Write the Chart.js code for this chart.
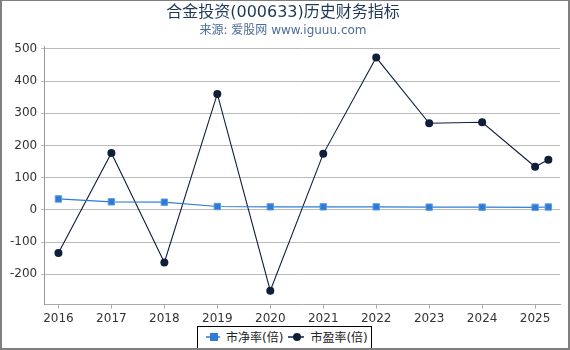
<!DOCTYPE html>
<html>
<head>
<meta charset="utf-8">
<script src="https://cdn.jsdelivr.net/npm/chart.js@4"></script>
<style>
    html, body { margin: 0; padding: 0; background: #fff; }
    #marco {
        width: 566px; height: 347px;
        border: 2px solid #7f7f7f; border-top-width: 1px;
        position: relative; overflow: hidden;
    }
    #leyenda {
        position: absolute; left: 195px; top: 325px;
        width: 175px; height: 23px; box-sizing: border-box;
        border: 1px solid #000; background: #fff;
        display: flex; align-items: center; padding: 0 0 2px 8px;
        font: 12px 'DejaVu Sans', 'Noto Sans CJK SC', sans-serif; color: #222;
    }
    #leyenda canvas { display: block; }
    #leyenda span { margin-left: 6px; margin-right: 5px; white-space: nowrap; }
</style>
</head>
<body>
<div id="marco">
    <canvas id="grafico" width="566" height="347"></canvas>
    <div id="leyenda"></div>
</div>
<script>
// Datos del gráfico
const anios = [2016, 2017, 2018, 2019, 2020, 2021, 2022, 2023, 2024, 2025, 2025.25];
const pbValores = [34, 25, 24, 10.5, 9.5, 9.5, 9.5, 8.5, 8.5, 8, 9];
const peValores = [-134, 177, -163, 360, -251, 174, 473, 269, 272, 134, 156];
const ticksY = [-200, -100, 0, 100, 200, 300, 400, 500];
const ticksX = [2016, 2017, 2018, 2019, 2020, 2021, 2022, 2023, 2024, 2025];

const fuente = "'DejaVu Sans', 'Noto Sans CJK SC', sans-serif";
const colorPB = '#2e7bd6';
const colorPE = '#0f1f3a';

const datosPB = anios.map((a, i) => ({ x: a, y: pbValores[i] }));
const datosPE = anios.map((a, i) => ({ x: a, y: peValores[i] }));

const grafico = new Chart(document.getElementById('grafico'), {
    type: 'line',
    data: {
        datasets: [{
            label: '市净率(倍)',
            data: datosPB,
            borderColor: colorPB,
            backgroundColor: colorPB,
            borderWidth: 1.2,
            pointStyle: 'rect',
            pointRadius: 4.5,
            pointBorderColor: '#5d9be3',
            pointBorderWidth: 1,
            tension: 0
        }, {
            label: '市盈率(倍)',
            data: datosPE,
            borderColor: colorPE,
            backgroundColor: colorPE,
            borderWidth: 1.1,
            pointStyle: 'circle',
            pointRadius: 4,
            pointBorderWidth: 0,
            tension: 0
        }]
    },
    options: {
        responsive: false,
        animation: false,
        layout: { padding: { left: 4, right: 8, top: 0, bottom: 19 } },
        plugins: {
            title: {
                display: true,
                text: '合金投资(000633)历史财务指标',
                color: '#1e3856',
                font: { family: fuente, size: 16, weight: 'normal' },
                padding: { top: 2, bottom: 0 }
            },
            subtitle: {
                display: true,
                text: '来源: 爱股网 www.iguuu.com',
                color: '#4d6d99',
                font: { family: fuente, size: 12 },
                padding: { top: 1, bottom: 9 }
            },
            legend: { display: false },
            tooltip: { enabled: false }
        },
        scales: {
            x: {
                type: 'linear',
                min: 2015.732,
                max: 2025.47,
                afterBuildTicks(axis) { axis.ticks = ticksX.map(v => ({ value: v })); },
                ticks: {
                    callback: v => String(v),
                    color: '#333',
                    font: { family: fuente, size: 12 },
                    maxRotation: 0,
                    padding: 3
                },
                grid: { drawOnChartArea: false, drawTicks: true, tickLength: 4, color: '#aaa' },
                border: { color: '#aaa' }
            },
            y: {
                min: -294,
                max: 507,
                afterBuildTicks(axis) { axis.ticks = ticksY.map(v => ({ value: v })); },
                ticks: {
                    color: '#333',
                    font: { family: fuente, size: 12 },
                    padding: 4
                },
                grid: { color: '#bbb', tickLength: 3 },
                border: { color: '#999' }
            }
        }
    }
});

// Leyenda en HTML: línea con marcador y texto
function crearIcono(ds, ancho) {
    const c = document.createElement('canvas');
    c.width = ancho; c.height = 10;
    const g = c.getContext('2d');
    g.strokeStyle = ds.borderColor;
    g.lineWidth = 1.5;
    g.beginPath(); g.moveTo(0, 5); g.lineTo(ancho, 5); g.stroke();
    g.fillStyle = ds.backgroundColor;
    const cx = ancho / 2 + 1;
    if (ds.pointStyle === 'rect') {
        g.fillRect(cx - 4, 1, 8, 8);
    } else {
        g.beginPath(); g.arc(cx, 5, 4, 0, Math.PI * 2); g.fill();
    }
    return c;
}

const leyenda = document.getElementById('leyenda');
grafico.data.datasets.forEach((ds, i) => {
    leyenda.appendChild(crearIcono(ds, i === 0 ? 14 : 16));
    const texto = document.createElement('span');
    texto.textContent = ds.label;
    leyenda.appendChild(texto);
});
</script>
</body>
</html>
